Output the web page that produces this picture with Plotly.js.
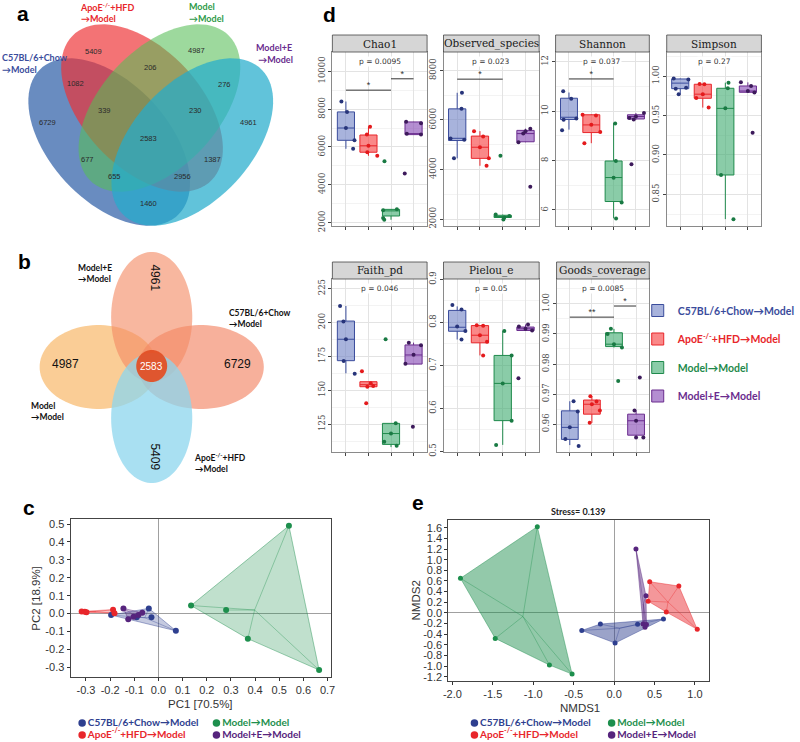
<!DOCTYPE html>
<html><head><meta charset="utf-8">
<script src="https://cdn.plot.ly/plotly-3.0.1.min.js"></script>
<style>html,body{margin:0;padding:0;background:#fff}</style>
</head><body><div id="chart" style="width:800px;height:742px"></div>
<script>
// ---------------- DATA ----------------
const groupNames = ['C57BL/6+Chow→Model','ApoE<sup>-/-</sup>+HFD→Model','Model→Model','Model+E→Model'];

// Venn (a): region codes (B=C57BL/6+Chow, R=ApoE-/-+HFD, G=Model, C=Model+E) and counts
const vennARegions = ['B','R','G','C','BR','RG','GC','BG','RC','BC','BRG','RGC','BGC','BRC','BRGC'];
const vennAValues  = [6729,5409,4987,4961,1082,206,276,677,1387,1460,339,230,655,2956,2583];
// Venn (b): petals and core
const vennBSets   = ['Model+E','C57BL/6+Chow','Model','ApoE-/-+HFD'];
const vennBValues = [4961,6729,4987,5409];
const vennBCore   = 2583;

// Alpha diversity (d)
const metrics = ['Chao1','Observed_species','Shannon','Simpson','Faith_pd','Pielou_e','Goods_coverage'];
const pLabels = ['p = 0.0095','p = 0.023','p = 0.037','p = 0.27','p = 0.046','p = 0.05','p = 0.0085'];

const chao1Vals = [[8400,7850,7000,6350,5900],[7070,6650,6060,5720,5530],[5240,2700,2650,2250,2150],[7330,7250,6700,6660,4600]];
const chao1Jit  = [[-0.2,0.05,0,0.38,0.32],[0.07,-0.07,0,-0.05,0.39],[-0.29,0.26,-0.35,-0.35,-0.3],[-0.33,0.33,-0.3,0.33,-0.39]];
const chao1Box  = [[6350,7000,7850,5900,8400],[5720,6060,6630,5530,7070],[2350,2620,2700,2150,2720],[6650,6700,7320,6650,7330]];

const obsVals = [[7100,6450,5250,5200,4450],[5550,5330,4900,4450,4150],[4560,2180,2120,2060,1980],[5650,5550,5450,5100,3300]];
const obsJit  = [[0.21,0.19,-0.29,0.31,-0.14],[-0.26,0.14,0,0.39,0.29],[-0.1,-0.31,0.29,0.07,0.03],[0.21,0,-0.1,-0.31,0.21]];
const obsBox  = [[5170,5260,6450,4450,7100],[4450,4900,5350,4150,5550],[2060,2100,2150,1980,2180],[5120,5450,5580,5100,5650]];

const shanVals = [[10.8,10.5,9.7,9.65,9.22],[9.85,9.82,9.45,9.15,8.7],[9.5,7.98,7.3,6.3,5.65],[9.92,9.78,9.72,9.66,7.85]];
const shanJit  = [[-0.26,0.1,0.33,-0.24,-0.31],[-0.39,0.21,0,0.4,-0.31],[0.07,0.1,0,0.36,0.11],[0.36,0,-0.29,-0.1,-0.2]];
const shanBox  = [[9.66,9.75,10.52,9.25,10.75],[9.13,9.44,9.85,8.7,9.87],[6.34,7.31,7.98,5.66,9.51],[9.68,9.78,9.85,9.65,9.92]];

const simpVals = [[0.997,0.9955,0.985,0.984,0.977],[0.990,0.9895,0.977,0.972,0.960],[0.9916,0.9845,0.959,0.8745,0.8185],[0.992,0.9875,0.981,0.979,0.9282]];
const simpJit  = [[-0.29,0.36,0.26,-0.2,-0.07],[-0.14,0.07,0,-0.29,0.26],[0.14,0.11,0,-0.19,0.36],[-0.31,0.14,0,0.29,0.21]];
const simpBox  = [[0.984,0.991,0.9963,0.977,0.997],[0.9718,0.977,0.9896,0.960,0.990],[0.8745,0.959,0.9845,0.8185,0.9916],[0.9794,0.981,0.9874,0.979,0.992]];

const faithVals = [[212,200.5,187.5,171.5,162],[164,155,153,152.5,140.3],[187.5,125.5,118,112,109],[185,183,176,169.5,123]];
const faithJit  = [[-0.26,-0.11,0,-0.1,0.39],[-0.29,0.1,0.21,-0.05,-0.1],[-0.24,0.21,0,-0.3,0.25],[-0.21,0.33,0,-0.36,-0.03]];
const faithBox  = [[171.7,187.5,200.9,162.4,212],[152.5,154,156.2,152.5,156.2],[110,118,125.5,108,125.5],[169.2,175.9,183.3,169,185]];

const pielVals = [[0.84,0.83,0.79,0.78,0.76],[0.793,0.792,0.77,0.755,0.723],[0.78,0.723,0.658,0.5714,0.515],[0.795,0.79,0.785,0.781,0.67]];
const pielJit  = [[-0.21,0.19,0,0.36,0.19],[-0.14,0.14,0,0.31,0.14],[0.07,0.39,0,0.39,-0.29],[0.11,-0.29,0,0.29,-0.31]];
const pielBox  = [[0.7792,0.7885,0.8277,0.76,0.837],[0.7524,0.770,0.7924,0.723,0.793],[0.5714,0.658,0.723,0.515,0.78],[0.781,0.785,0.789,0.781,0.795]];

const goodVals = [[0.9676,0.9642,0.9589,0.955,0.9527],[0.9693,0.9675,0.9666,0.9645,0.9604],[0.9917,0.990,0.9866,0.9855,0.9743],[0.9755,0.9645,0.9611,0.9555,0.9555]];
const goodJit  = [[0.17,0.36,0,-0.2,0.4],[-0.07,0.21,0,0.36,-0.1],[-0.14,-0.29,0,0.36,0.19],[0.17,-0.07,0,0,0.33]];
const goodBox  = [[0.9549,0.9589,0.9644,0.953,0.9676],[0.9633,0.9666,0.968,0.9604,0.9693],[0.9858,0.9866,0.9904,0.9855,0.9917],[0.9563,0.9611,0.9633,0.9555,0.9645]];

// significance brackets
const sigMetric = [0,0,1,2,6,6];
const sigFrom   = [1,3,1,1,1,3];
const sigTo     = [3,4,3,3,3,4];
const sigY      = [9000,9600,7650,11.3,0.9956,0.9993];
const sigLabel  = ['*','*','*','*','**','*'];

// PCA (c)
const pcaC57X   = [-0.196,-0.09,-0.04,-0.029,0.072];
const pcaC57Y   = [-0.008,-0.02,0.029,-0.02,-0.096];
const pcaApoEX  = [-0.318,-0.305,-0.298,-0.188,-0.182];
const pcaApoEY  = [0.012,0.01,0.008,0.022,0.002];
const pcaModelX = [0.135,0.28,0.37,0.54,0.665];
const pcaModelY = [0.045,0.02,-0.14,0.49,-0.315];
const pcaMEX    = [-0.145,-0.125,-0.103,-0.083,-0.067];
const pcaMEY    = [0.029,-0.031,-0.018,-0.008,0.005];
const pcaTitles = ['PC1 [70.5%]','PC2 [18.9%]'];

// NMDS (e)
const nmdsC57X   = [-0.4,-0.17,0.012,0.29,0.61];
const nmdsC57Y   = [-0.33,-0.21,-0.567,-0.216,-0.116];
const nmdsApoEX  = [0.44,0.8,0.42,0.645,1.028];
const nmdsApoEY  = [0.585,0.504,0.22,0.016,-0.31];
const nmdsModelX = [-0.95,-1.9,-1.47,-0.8,-0.52];
const nmdsModelY = [1.62,0.65,-0.48,-0.98,-1.15];
const nmdsMEX    = [0.27,0.394,0.358,0.382,0.4];
const nmdsMEY    = [1.2,0.32,-0.21,-0.27,-0.22];
const nmdsTitles = ['NMDS1','NMDS2'];
const stressText = 'Stress= 0.139';

// ---------------- STYLE / LAYOUT HELPERS ----------------
const W = 800, H = 742;
const dx = (a,b)=>[a/W,b/W];
const dy = (t,b)=>[1-b/H,1-t/H];
const boxLine = ['#3a4c9c','#e8262b','#1f8a4c','#6a2c8e'];
const boxFill = ['rgba(110,128,196,0.6)','rgba(248,72,72,0.65)','rgba(60,170,110,0.6)','rgba(140,82,184,0.65)'];
const ptCol   = ['#27347a','#e41a1c','#197a43','#3d1a5b'];
const ordCol  = ['#2e3f8f','#e8262b','#1d8f4d','#56247d'];
const ordRGB  = ['46,63,143','232,38,43','29,143,77','86,36,125'];
const legFont = 'Lato, "Liberation Sans", sans-serif';
const arial = '"Liberation Sans", Arial, sans-serif';

const traces = [];
const shapes = [];
const annotations = [];
const layout = {};

// overlay pixel axis (x/y) for Venn diagrams, strips, labels, legends
layout.xaxis = {domain:[0,1], range:[0,W], visible:false, fixedrange:true};
layout.yaxis = {domain:[0,1], range:[H,0], visible:false, fixedrange:true};
traces.push({type:'scatter', x:[0], y:[0], mode:'markers', marker:{opacity:0}, showlegend:false, hoverinfo:'skip', xaxis:'x', yaxis:'y'});

function ellipsePath(cx, cy, a, b, angDeg){
  const t = angDeg*Math.PI/180, n = 90; let p = '';
  for(let i=0;i<n;i++){
    const u = 2*Math.PI*i/n;
    const x = cx + a*Math.cos(u)*Math.cos(t) - b*Math.sin(u)*Math.sin(t);
    const y = cy + a*Math.cos(u)*Math.sin(t) + b*Math.sin(u)*Math.cos(t);
    p += (i? ' L ':'M ') + x.toFixed(2) + ',' + y.toFixed(2);
  }
  return p + ' Z';
}
function txt(x,y,text,opt){
  annotations.push(Object.assign({xref:'x',yref:'y',x:x,y:y,text:text,showarrow:false,
    font:{family:arial,size:8,color:'#333'}},opt||{}));
}

// ---------- Panel a: 4-set Venn ----------
const vaEll = [
  {c:[113,142], ang:45,  col:'rgba(47,95,168,0.72)'},
  {c:[147,108], ang:45,  col:'rgba(238,48,52,0.68)'},
  {c:[165,108], ang:-45, col:'rgba(86,190,86,0.58)'},
  {c:[199,142], ang:-45, col:'rgba(36,172,204,0.72)'}
];
vaEll.forEach(e=>shapes.push({type:'path', xref:'x', yref:'y', path:ellipsePath(e.c[0],e.c[1],102,60,e.ang), fillcolor:e.col, line:{width:0}, layer:'below'}));
const vaPos = {B:[49,122],R:[97,51],G:[203,50],C:[257,122],BR:[78,83],RG:[156,67],GC:[232,84],BG:[91,159],RC:[220,159],BC:[154,203],BRG:[108,110],RGC:[202,110],BGC:[118,176],BRC:[189,176],BRGC:[154,138]};
vennARegions.forEach((r,i)=>txt(vaPos[r][0],vaPos[r][1],String(vennAValues[i]),{font:{family:arial,size:7.5,color:'#2a2a2a'}}));
const setLab = (x,y,t,c)=>txt(x,y,'<b>'+t+'</b>',{xanchor:'left',align:'left',font:{family:legFont,size:9,color:c}});
setLab(81,12,'ApoE<sup>-/-</sup>+HFD<br>→Model','#e8262b');
setLab(194,12,'Model<br>→Model','#2e9a48');
setLab(0,63,'C57BL/6+Chow<br>→Model','#3a4c9c');
setLab(263,53,'Model+E<br> →Model','#6a2c8e');

// ---------- Panel b: flower Venn ----------
const vbEll = [
  {c:[102,367], rx:61, ry:42, col:'rgba(248,186,110,0.72)'},
  {c:[208,367], rx:65, ry:42, col:'rgba(243,132,98,0.64)'},
  {c:[157,317], rx:42, ry:65, col:'rgba(244,138,100,0.62)'},
  {c:[157,418], rx:42, ry:65, col:'rgba(140,214,238,0.75)'}
];
vbEll.forEach(e=>shapes.push({type:'path', xref:'x', yref:'y', path:ellipsePath(e.c[0],e.c[1],e.rx,e.ry,0), fillcolor:e.col, line:{width:0}, layer:'below'}));
shapes.push({type:'path', xref:'x', yref:'y', path:ellipsePath(157,366,16,16,0), fillcolor:'rgba(226,80,38,0.95)', line:{width:0}, layer:'below'});
const vbPos = [[160,278,90],[246,364,0],[68,364,0],[160,457,90]];
vennBValues.forEach((v,i)=>txt(vbPos[i][0],vbPos[i][1],String(v),{textangle:vbPos[i][2],font:{family:arial,size:12,color:'#111'}}));
txt(157,366,String(vennBCore),{font:{family:arial,size:10,color:'#fff'}});
const bLab = (x,y,t)=>txt(x,y,'<b>'+t+'</b>',{xanchor:'left',align:'left',font:{family:legFont,size:8.5,color:'#111'}});
bLab(79,273,'Model+E<br>→Model');
bLab(235,318,'C57BL/6+Chow<br>→Model');
bLab(30,411,'Model<br>→Model');
bLab(199,462,'ApoE<sup>-/-</sup>+HFD<br>→Model');

// panel letters
[['a',24,13],['b',25,261],['c',30,507],['d',341,14],['e',433,502]].forEach(l=>
  txt(l[1],l[2],'<b>'+l[0]+'</b>',{font:{family:arial,size:21,color:'#000'}}));

// ---------- Panel d: facets ----------
const facetVals = [chao1Vals,obsVals,shanVals,simpVals,faithVals,pielVals,goodVals];
const facetJit  = [chao1Jit,obsJit,shanJit,simpJit,faithJit,pielJit,goodJit];
const facetBox  = [chao1Box,obsBox,shanBox,simpBox,faithBox,pielBox,goodBox];
const facetPx = [[344,442,52,226],[459,558,52,226],[575,672,52,226],[690,788,52,226],
                 [344,442,279,452],[459,558,279,452],[576,672,279,452]];
const facetRange = [[1821,11016],[1717,8747],[5.35,12.39],[0.8098,1.0305],[104.4,231.9],[0.4985,0.9007],[0.9507,1.0083]];
const facetTick = [[2000,2000,0],[2000,2000,0],[6,2,0],[0.85,0.05,2],[125,25,0],[0.5,0.1,1],[0.96,0.01,2]];

metrics.forEach((m,i)=>{
  const n = i+2, xa = 'x'+n, ya = 'y'+n, px = facetPx[i];
  const [t0,dt,dec] = facetTick[i], rg = facetRange[i];
  const tv=[], tt=[], mv=[];
  for(let k=0;k<60;k++){ const v = +(t0+k*dt).toFixed(6); if(v>rg[1]) break; tv.push(v); tt.push(v.toFixed(dec)); }
  for(let k=-1;k<60;k++){ const v = +(t0+(k+0.5)*dt).toFixed(6); if(v>rg[1]) break; if(v>=rg[0]) mv.push(v); }
  layout['xaxis'+n] = {domain:dx(px[0],px[1]), anchor:ya, range:[0.4,4.6], tickvals:[1,2,3,4], showticklabels:false,
    ticks:'outside', ticklen:3, tickcolor:'#444', showgrid:true, gridcolor:'#e3e3e3', zeroline:false,
    showline:true, mirror:true, linecolor:'#8a8a8a', linewidth:1, fixedrange:true};
  layout['yaxis'+n] = {domain:dy(px[2],px[3]), anchor:xa, range:rg, tickvals:tv, ticktext:tt, tickangle:-90,
    ticks:'outside', ticklen:3, tickcolor:'#444', showgrid:true, gridcolor:'#e3e3e3', zeroline:false,
    minor:{tickvals:mv, showgrid:true, gridcolor:'#f3f3f3', ticks:''},
    showline:true, mirror:true, linecolor:'#8a8a8a', linewidth:1, fixedrange:true,
    tickfont:{family:'"DejaVu Serif", serif', size:8.5, color:'#4d4d4d'}};
  // strip
  shapes.push({type:'rect', xref:'x', yref:'y', x0:px[0], x1:px[1], y0:px[2]-17, y1:px[2], fillcolor:'#d6d6d6', line:{color:'#444',width:0.8}});
  txt((px[0]+px[1])/2, px[2]-8.5, m, {font:{family:'"DejaVu Serif", serif', size:10.5, color:'#1a1a1a'}});
  // p label
  annotations.push({xref:xa+' domain', yref:ya+' domain', x:0.5, y:1, yanchor:'top', yshift:-4, showarrow:false,
    text:pLabels[i], bgcolor:'#fff', borderpad:0, font:{family:'"DejaVu Sans", sans-serif', size:7.5, color:'#333'}});
  for(let g=0; g<4; g++){
    const b = facetBox[i][g];
    traces.push({type:'box', xaxis:xa, yaxis:ya, x:[g+1], q1:[b[0]], median:[b[1]], q3:[b[2]], lowerfence:[b[3]], upperfence:[b[4]],
      width:0.76, whiskerwidth:0, fillcolor:boxFill[g], line:{color:boxLine[g], width:1}, boxpoints:false,
      name:'<span style="color:'+boxLine[g]+'"><b>'+groupNames[g]+'</b></span>', legend:'legend', legendgroup:'g'+g, showlegend:i===0, hoverinfo:'skip'});
    traces.push({type:'scatter', mode:'markers', xaxis:xa, yaxis:ya,
      x:facetVals[i][g].map((v,k)=>g+1+facetJit[i][g][k]), y:facetVals[i][g],
      marker:{size:4, color:ptCol[g]}, showlegend:false, hoverinfo:'skip', cliponaxis:false});
  }
});
sigMetric.forEach((mi,k)=>{
  const n = mi+2;
  traces.push({type:'scatter', mode:'lines', xaxis:'x'+n, yaxis:'y'+n, x:[sigFrom[k],sigTo[k]], y:[sigY[k],sigY[k]],
    line:{color:'#333', width:1}, showlegend:false, hoverinfo:'skip'});
  traces.push({type:'scatter', mode:'text', xaxis:'x'+n, yaxis:'y'+n, x:[(sigFrom[k]+sigTo[k])/2], y:[sigY[k]],
    text:[sigLabel[k]], textposition:'top center', textfont:{size:9, color:'#333'}, showlegend:false, hoverinfo:'skip'});
});

// ---------- ordination helpers ----------
function hull(xs, ys){
  const pts = xs.map((x,i)=>[x,ys[i]]).sort((a,b)=>a[0]-b[0]||a[1]-b[1]);
  const cr=(o,a,b)=>(a[0]-o[0])*(b[1]-o[1])-(a[1]-o[1])*(b[0]-o[0]);
  const lo=[], up=[];
  for(const p of pts){ while(lo.length>=2 && cr(lo[lo.length-2],lo[lo.length-1],p)<=0) lo.pop(); lo.push(p); }
  for(const p of pts.slice().reverse()){ while(up.length>=2 && cr(up[up.length-2],up[up.length-1],p)<=0) up.pop(); up.push(p); }
  lo.pop(); up.pop(); const h = lo.concat(up); h.push(h[0]); return h;
}
function ordination(sets, xa, ya, fillA, msize){
  sets.forEach((s,g)=>{
    const [xs,ys] = s;
    const h = hull(xs,ys);
    traces.push({type:'scatter', mode:'lines', xaxis:xa, yaxis:ya, x:h.map(p=>p[0]), y:h.map(p=>p[1]), fill:'toself',
      fillcolor:'rgba('+ordRGB[g]+','+fillA+')', line:{color:'rgba('+ordRGB[g]+',0.55)', width:0.8}, showlegend:false, hoverinfo:'skip'});
    const cx = xs.reduce((a,b)=>a+b,0)/xs.length, cy = ys.reduce((a,b)=>a+b,0)/ys.length;
    const sx=[], sy=[];
    xs.forEach((x,k)=>{ sx.push(cx,x,null); sy.push(cy,ys[k],null); });
    traces.push({type:'scatter', mode:'lines', xaxis:xa, yaxis:ya, x:sx, y:sy, line:{color:'rgba('+ordRGB[g]+',0.45)', width:0.8},
      showlegend:false, hoverinfo:'skip'});
  });
  sets.forEach((s,g)=>{
    traces.push({type:'scatter', mode:'markers', xaxis:xa, yaxis:ya, x:s[0], y:s[1],
      marker:{size:msize, color:ordCol[g]}, showlegend:false, hoverinfo:'skip', cliponaxis:false});
  });
}
function ticks(k0,k1,div,dec){ const v=[],t=[]; for(let k=k0;k<=k1;k++){ v.push(k/div); t.push((k/div).toFixed(dec)); } return [v,t]; }
const ordAxis = (dom, anchor, rg, tk)=>({domain:dom, anchor:anchor, range:rg, tickvals:tk[0], ticktext:tk[1],
  ticks:'outside', ticklen:3, tickcolor:'#333', showgrid:false, zeroline:true, zerolinecolor:'#a0a0a0', zerolinewidth:1,
  showline:true, mirror:true, linecolor:'#444', linewidth:1, fixedrange:true,
  tickfont:{family:arial, size:11, color:'#333'}});
const axTitle = (x,y,t,ang)=>txt(x,y,t,{textangle:ang,font:{family:arial,size:11.5,color:'#333'}});

// ---------- Panel c: PCA ----------
layout.xaxis9  = ordAxis(dx(73,343), 'y9', [-0.364,0.716], ticks(-3,7,10,1));
layout.yaxis9  = ordAxis(dy(519,677), 'x9', [-0.354,0.528], ticks(-3,5,10,1));
ordination([[pcaC57X,pcaC57Y],[pcaApoEX,pcaApoEY],[pcaModelX,pcaModelY],[pcaMEX,pcaMEY]], 'x9','y9', 0.28, 6);
axTitle(208,704,pcaTitles[0],0);
axTitle(37,598,pcaTitles[1],-90);

// ---------- Panel e: NMDS ----------
layout.xaxis10 = ordAxis(dx(464,734), 'y10', [-2.05,1.176], ticks(-4,2,2,1));
layout.yaxis10 = ordAxis(dy(520,681), 'x10', [-1.28,1.745], ticks(-6,8,5,1));
ordination([[nmdsC57X,nmdsC57Y],[nmdsApoEX,nmdsApoEY],[nmdsModelX,nmdsModelY],[nmdsMEX,nmdsMEY]], 'x10','y10', 0.48, 5);
txt(598,511,'<b>'+stressText+'</b>',{font:{family:legFont,size:9,color:'#222'}});
axTitle(600,708,nmdsTitles[0],0);
axTitle(431,600,nmdsTitles[1],-90);

// legends for c and e (markers with coloured names)
function dotLegend(x0, x1, y0, y1){
  const lx=[x0,x0,x1,x1], ly=[y0,y1,y0,y1], order=[0,1,2,3];
  traces.push({type:'scatter', mode:'markers+text', xaxis:'x', yaxis:'y', x:lx, y:ly,
    text:order.map(g=>'<b>'+groupNames[g]+'</b>'), textposition:'middle right',
    textfont:{family:legFont, size:10, color:order.map(g=>ordCol[g])},
    marker:{size:7.5, color:order.map(g=>ordCol[g])}, showlegend:false, hoverinfo:'skip', cliponaxis:false});
}
dotLegend(85,224,723,735);
dotLegend(491,633,723,735);

// ---------- layout ----------
Object.assign(layout, {
  width:W, height:H, margin:{l:0,r:0,t:0,b:0}, paper_bgcolor:'#fff', plot_bgcolor:'rgba(0,0,0,0)',
  showlegend:true, hovermode:false, boxmode:'overlay', shapes:shapes, annotations:annotations,
  legend:{x:660/W, y:1-296/H, xanchor:'left', yanchor:'top', traceorder:'grouped', tracegroupgap:9.5,
    bgcolor:'rgba(0,0,0,0)', font:{family:legFont, size:10.5, color:'#333'}, itemclick:false, itemdoubleclick:false},
  font:{family:arial}
});

Plotly.newPlot('chart', traces, layout, {staticPlot:true, displayModeBar:false});
</script></body></html>
